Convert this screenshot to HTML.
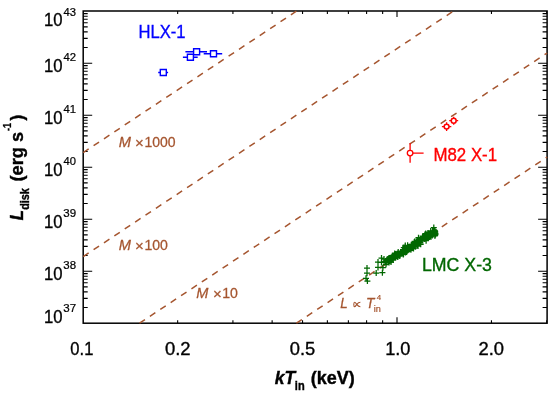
<!DOCTYPE html>
<html><head><meta charset="utf-8"><title>L_disk vs kT_in</title>
<style>html,body{margin:0;padding:0;background:#fff}body{width:554px;height:396px;overflow:hidden}</style></head>
<body>
<svg width="554" height="396" viewBox="0 0 554 396" style="display:block;font-family:'Liberation Sans',sans-serif">
<rect x="0" y="0" width="554" height="396" fill="#fff"/>
<path d="M83.20 307.55h4.5M547.10 307.55h-4.5M83.20 298.39h4.5M547.10 298.39h-4.5M83.20 291.89h4.5M547.10 291.89h-4.5M83.20 286.85h4.5M547.10 286.85h-4.5M83.20 282.74h4.5M547.10 282.74h-4.5M83.20 279.25h4.5M547.10 279.25h-4.5M83.20 276.24h4.5M547.10 276.24h-4.5M83.20 273.58h4.5M547.10 273.58h-4.5M83.20 271.20h9.0M547.10 271.20h-9.0M83.20 255.55h4.5M547.10 255.55h-4.5M83.20 246.39h4.5M547.10 246.39h-4.5M83.20 239.89h4.5M547.10 239.89h-4.5M83.20 234.85h4.5M547.10 234.85h-4.5M83.20 230.74h4.5M547.10 230.74h-4.5M83.20 227.25h4.5M547.10 227.25h-4.5M83.20 224.24h4.5M547.10 224.24h-4.5M83.20 221.58h4.5M547.10 221.58h-4.5M83.20 219.20h9.0M547.10 219.20h-9.0M83.20 203.55h4.5M547.10 203.55h-4.5M83.20 194.39h4.5M547.10 194.39h-4.5M83.20 187.89h4.5M547.10 187.89h-4.5M83.20 182.85h4.5M547.10 182.85h-4.5M83.20 178.74h4.5M547.10 178.74h-4.5M83.20 175.25h4.5M547.10 175.25h-4.5M83.20 172.24h4.5M547.10 172.24h-4.5M83.20 169.58h4.5M547.10 169.58h-4.5M83.20 167.20h9.0M547.10 167.20h-9.0M83.20 151.55h4.5M547.10 151.55h-4.5M83.20 142.39h4.5M547.10 142.39h-4.5M83.20 135.89h4.5M547.10 135.89h-4.5M83.20 130.85h4.5M547.10 130.85h-4.5M83.20 126.74h4.5M547.10 126.74h-4.5M83.20 123.25h4.5M547.10 123.25h-4.5M83.20 120.24h4.5M547.10 120.24h-4.5M83.20 117.58h4.5M547.10 117.58h-4.5M83.20 115.20h9.0M547.10 115.20h-9.0M83.20 99.55h4.5M547.10 99.55h-4.5M83.20 90.39h4.5M547.10 90.39h-4.5M83.20 83.89h4.5M547.10 83.89h-4.5M83.20 78.85h4.5M547.10 78.85h-4.5M83.20 74.74h4.5M547.10 74.74h-4.5M83.20 71.25h4.5M547.10 71.25h-4.5M83.20 68.24h4.5M547.10 68.24h-4.5M83.20 65.58h4.5M547.10 65.58h-4.5M83.20 63.20h9.0M547.10 63.20h-9.0M83.20 47.55h4.5M547.10 47.55h-4.5M83.20 38.39h4.5M547.10 38.39h-4.5M83.20 31.89h4.5M547.10 31.89h-4.5M83.20 26.85h4.5M547.10 26.85h-4.5M83.20 22.74h4.5M547.10 22.74h-4.5M83.20 19.25h4.5M547.10 19.25h-4.5M83.20 16.24h4.5M547.10 16.24h-4.5M83.20 13.58h4.5M547.10 13.58h-4.5M177.66 323.20v-3.0M177.66 11.00v3.0M232.92 323.20v-3.0M232.92 11.00v3.0M272.13 323.20v-3.0M272.13 11.00v3.0M302.54 323.20v-3.0M302.54 11.00v3.0M327.38 323.20v-3.0M327.38 11.00v3.0M348.39 323.20v-3.0M348.39 11.00v3.0M366.59 323.20v-3.0M366.59 11.00v3.0M382.64 323.20v-3.0M382.64 11.00v3.0M397.00 323.20v-6.0M397.00 11.00v6.0M491.46 323.20v-3.0M491.46 11.00v3.0M546.72 323.20v-3.0M546.72 11.00v3.0" stroke="#000" stroke-width="1.1" fill="none"/>
<rect x="83.2" y="11.0" width="463.90" height="312.20" fill="none" stroke="#000" stroke-width="1.5"/>
<line x1="296.42" y1="323.20" x2="547.10" y2="157.04" stroke="#a5552f" stroke-width="1.5" stroke-dasharray="6.54 5.92"/>
<line x1="139.52" y1="323.20" x2="547.10" y2="53.04" stroke="#a5552f" stroke-width="1.5" stroke-dasharray="6.54 5.92"/>
<line x1="83.20" y1="256.53" x2="453.62" y2="11.00" stroke="#a5552f" stroke-width="1.5" stroke-dasharray="6.54 5.92"/>
<line x1="83.20" y1="152.53" x2="296.72" y2="11.00" stroke="#a5552f" stroke-width="1.5" stroke-dasharray="6.54 5.92"/>
<polyline points="385.1,261.5 393.9,257.1 402.7,251.8 411.6,246.5 420.4,241.2 429.3,235.0 436.0,231.0" stroke="#006700" stroke-width="3.4" fill="none" stroke-linecap="round" stroke-linejoin="round"/>
<path d="M398.5 253.8h6M401.5 250.8v6M385.7 261.2h6M388.7 258.2v6M409.3 245.7h6M412.3 242.7v6M407.9 247.4h6M410.9 244.4v6M383.9 260.2h6M386.9 257.2v6M386.6 259.4h6M389.6 256.4v6M403.7 249.8h6M406.7 246.8v6M393.4 255.0h6M396.4 252.0v6M414.0 245.5h6M417.0 242.5v6M402.2 249.6h6M405.2 246.6v6M431.8 235.8h6M434.8 232.8v6M396.8 254.4h6M399.8 251.4v6M389.4 258.7h6M392.4 255.7v6M423.6 238.0h6M426.6 235.0v6M391.2 255.2h6M394.2 252.2v6M401.0 249.9h6M404.0 246.9v6M409.9 246.3h6M412.9 243.3v6M392.5 256.3h6M395.5 253.3v6M416.7 240.2h6M419.7 237.2v6M411.9 245.2h6M414.9 242.2v6M405.1 247.7h6M408.1 244.7v6M417.6 244.2h6M420.6 241.2v6M394.4 253.4h6M397.4 250.4v6M426.6 233.7h6M429.6 230.7v6M419.2 238.7h6M422.2 235.7v6M388.0 262.1h6M391.0 259.1v6M403.3 249.7h6M406.3 246.7v6M406.9 246.5h6M409.9 243.5v6M384.0 259.5h6M387.0 256.5v6M411.2 242.3h6M414.2 239.3v6M426.6 233.5h6M429.6 230.5v6M412.3 246.8h6M415.3 243.8v6M411.6 241.4h6M414.6 238.4v6M430.2 233.8h6M433.2 230.8v6M406.2 247.6h6M409.2 244.6v6M417.8 240.4h6M420.8 237.4v6M415.0 246.1h6M418.0 243.1v6M396.5 253.6h6M399.5 250.6v6M401.7 250.5h6M404.7 247.5v6M405.5 248.0h6M408.5 245.0v6M390.6 257.6h6M393.6 254.6v6M421.2 239.0h6M424.2 236.0v6M388.6 258.3h6M391.6 255.3v6M426.4 237.0h6M429.4 234.0v6M386.1 258.0h6M389.1 255.0v6M427.1 235.4h6M430.1 232.4v6M423.8 237.8h6M426.8 234.8v6M403.2 248.7h6M406.2 245.7v6M400.3 254.4h6M403.3 251.4v6M389.7 255.4h6M392.7 252.4v6M391.0 257.2h6M394.0 254.2v6M406.7 248.8h6M409.7 245.8v6M412.0 244.4h6M415.0 241.4v6M403.4 249.8h6M406.4 246.8v6M400.8 247.6h6M403.8 244.6v6M417.2 239.4h6M420.2 236.4v6M408.3 244.8h6M411.3 241.8v6M384.8 258.9h6M387.8 255.9v6M427.9 234.9h6M430.9 231.9v6M422.7 233.5h6M425.7 230.5v6M402.0 249.8h6M405.0 246.8v6M414.3 243.5h6M417.3 240.5v6M385.2 260.8h6M388.2 257.8v6M390.3 257.8h6M393.3 254.8v6M399.3 252.0h6M402.3 249.0v6M389.7 257.7h6M392.7 254.7v6M387.2 258.8h6M390.2 255.8v6M426.6 235.2h6M429.6 232.2v6M413.3 244.5h6M416.3 241.5v6M399.7 252.7h6M402.7 249.7v6M400.6 253.5h6M403.6 250.5v6M432.6 234.2h6M435.6 231.2v6M405.8 247.5h6M408.8 244.5v6M387.2 259.0h6M390.2 256.0v6M399.5 251.7h6M402.5 248.7v6M390.2 260.0h6M393.2 257.0v6M383.2 262.4h6M386.2 259.4v6M389.5 257.3h6M392.5 254.3v6M409.7 247.9h6M412.7 244.9v6M431.9 232.1h6M434.9 229.1v6M426.0 234.7h6M429.0 231.7v6M400.7 250.1h6M403.7 247.1v6M390.5 257.5h6M393.5 254.5v6M421.7 235.8h6M424.7 232.8v6M398.8 252.8h6M401.8 249.8v6M432.2 235.4h6M435.2 232.4v6M425.5 236.9h6M428.5 233.9v6M419.7 236.2h6M422.7 233.2v6M393.6 254.2h6M396.6 251.2v6M383.5 260.7h6M386.5 257.7v6M383.4 260.7h6M386.4 257.7v6M417.3 242.7h6M420.3 239.7v6M430.8 227.5h6M433.8 224.5v6M432.4 233.0h6M435.4 230.0v6M430.7 231.4h6M433.7 228.4v6M393.6 256.2h6M396.6 253.2v6M392.0 257.0h6M395.0 254.0v6M427.9 236.9h6M430.9 233.9v6M424.9 233.1h6M427.9 230.1v6M422.8 237.8h6M425.8 234.8v6M386.3 257.9h6M389.3 254.9v6M421.9 234.4h6M424.9 231.4v6M420.3 238.0h6M423.3 235.0v6M422.2 238.0h6M425.2 235.0v6M399.0 253.5h6M402.0 250.5v6M402.2 246.3h6M405.2 243.3v6M402.5 252.6h6M405.5 249.6v6M390.7 256.5h6M393.7 253.5v6M388.5 260.0h6M391.5 257.0v6M423.1 240.7h6M426.1 237.7v6M389.5 259.6h6M392.5 256.6v6M415.5 237.7h6M418.5 234.7v6M399.9 250.9h6M402.9 247.9v6M382.7 261.0h6M385.7 258.0v6M431.5 230.3h6M434.5 227.3v6M429.6 230.9h6M432.6 227.9v6M404.1 251.3h6M407.1 248.3v6M392.8 254.1h6M395.8 251.1v6M394.8 254.4h6M397.8 251.4v6M411.9 245.8h6M414.9 242.8v6M395.2 253.8h6M398.2 250.8v6M428.4 234.3h6M431.4 231.3v6M400.0 249.6h6M403.0 246.6v6M428.1 234.6h6M431.1 231.6v6M403.5 251.2h6M406.5 248.2v6M409.1 245.2h6M412.1 242.2v6M408.7 248.3h6M411.7 245.3v6M391.3 257.0h6M394.3 254.0v6M382.2 261.7h6M385.2 258.7v6M406.1 247.0h6M409.1 244.0v6M419.0 238.5h6M422.0 235.5v6M408.4 246.1h6M411.4 243.1v6M410.3 245.6h6M413.3 242.6v6M410.6 244.5h6M413.6 241.5v6M394.7 254.4h6M397.7 251.4v6M407.9 249.8h6M410.9 246.8v6M410.6 245.5h6M413.6 242.5v6M404.6 245.3h6M407.6 242.3v6M413.2 241.5h6M416.2 238.5v6M417.3 241.2h6M420.3 238.2v6M405.1 246.8h6M408.1 243.8v6M430.0 232.3h6M433.0 229.3v6M417.7 244.3h6M420.7 241.3v6M395.2 252.0h6M398.2 249.0v6M410.5 248.5h6M413.5 245.5v6M389.0 257.2h6M392.0 254.2v6M388.2 258.0h6M391.2 255.0v6M394.3 255.3h6M397.3 252.3v6M385.7 258.6h6M388.7 255.6v6M427.7 230.9h6M430.7 227.9v6M389.9 257.2h6M392.9 254.2v6M389.3 256.0h6M392.3 253.0v6M427.0 236.0h6M430.0 233.0v6M430.6 232.1h6M433.6 229.1v6M402.3 245.4h6M405.3 242.4v6M424.5 236.8h6M427.5 233.8v6M390.2 255.9h6M393.2 252.9v6M399.3 252.8h6M402.3 249.8v6M392.0 255.5h6M395.0 252.5v6M383.0 262.8h6M386.0 259.8v6M410.3 245.2h6M413.3 242.2v6M398.9 252.4h6M401.9 249.4v6M413.8 242.7h6M416.8 239.7v6M432.2 231.4h6M435.2 228.4v6M422.2 238.8h6M425.2 235.8v6M395.5 254.2h6M398.5 251.2v6M384.0 260.7h6M387.0 257.7v6M388.6 257.2h6M391.6 254.2v6M403.5 252.1h6M406.5 249.1v6M395.2 253.1h6M398.2 250.1v6M389.6 259.3h6M392.6 256.3v6M417.7 239.8h6M420.7 236.8v6M386.6 261.1h6M389.6 258.1v6M403.7 250.3h6M406.7 247.3v6M385.7 261.4h6M388.7 258.4v6M422.9 236.3h6M425.9 233.3v6M386.3 259.7h6M389.3 256.7v6M426.0 234.6h6M429.0 231.6v6M405.1 247.4h6M408.1 244.4v6M429.3 235.5h6M432.3 232.5v6M395.7 255.5h6M398.7 252.5v6M394.2 256.4h6M397.2 253.4v6M387.6 259.0h6M390.6 256.0v6M392.3 256.6h6M395.3 253.6v6M397.9 252.0h6M400.9 249.0v6M396.8 255.9h6M399.8 252.9v6M407.5 247.8h6M410.5 244.8v6M382.9 262.1h6M385.9 259.1v6M394.8 257.1h6M397.8 254.1v6M410.1 245.9h6M413.1 242.9v6M391.7 253.4h6M394.7 250.4v6M387.4 259.3h6M390.4 256.3v6M423.8 234.6h6M426.8 231.6v6M424.6 237.2h6M427.6 234.2v6M402.0 248.0h6M405.0 245.0v6M432.1 231.4h6M435.1 228.4v6M399.5 253.1h6M402.5 250.1v6M414.4 240.5h6M417.4 237.5v6M402.6 249.7h6M405.6 246.7v6M388.6 258.6h6M391.6 255.6v6M364.0 268.1h6M367.0 265.1v6M364.0 273.2h6M367.0 270.2v6M363.0 278.3h6M366.0 275.3v6M364.4 281.0h6M367.4 278.0v6M375.0 262.1h6M378.0 259.1v6M378.5 258.0h6M381.5 255.0v6M378.5 262.4h6M381.5 259.4v6M373.2 273.0h6M376.2 270.0v6M379.9 267.7h6M382.9 264.7v6M379.4 272.7h6M382.4 269.7v6M375.0 267.4h6M378.0 264.4v6M381.0 259.0h6M384.0 256.0v6M383.0 264.5h6M386.0 261.5v6M386.0 262.5h6M389.0 259.5v6" stroke="#006700" stroke-width="1.25" fill="none"/>
<path d="M158.2 72.5H160.3M166.3 72.5H168.1M160.3 69.5h6v6h-6zM182.9 57.3H187.4M193.4 57.3H197.7M187.4 54.3h6v6h-6zM185.4 51.8H193.6M199.6 51.8H207.0M193.6 48.8h6v6h-6zM203.7 53.7H210.5M216.5 53.7H222.2M210.5 50.7h6v6h-6z" stroke="#0000ff" stroke-width="1.4" fill="none"/>
<path d="M410.1 143.3V150.4M410.1 155.8V162.8M412.8 153.1H423.6" stroke="#ff0000" stroke-width="1.3" fill="none"/>
<circle cx="410.1" cy="153.1" r="2.8" stroke="#ff0000" stroke-width="1.3" fill="none"/>
<circle cx="446.6" cy="126.6" r="2.45" stroke="#ff0000" stroke-width="1.5" fill="none"/>
<path d="M441.90000000000003 126.6H444.1M449.1 126.6H451.3M446.6 122.3V124.1M446.6 129.1V130.9" stroke="#ff0000" stroke-width="1.3" fill="none"/>
<circle cx="453.7" cy="120.7" r="2.45" stroke="#ff0000" stroke-width="1.5" fill="none"/>
<path d="M449.2 120.7H451.2M456.2 120.7H458.2M453.7 116.7V118.2M453.7 123.2V124.7" stroke="#ff0000" stroke-width="1.3" fill="none"/>
<g opacity="0.999">
<text transform="translate(70.34,354.70) scale(0.9299,1)" font-size="17.8" font-weight="normal" font-style="normal" fill="#000" stroke="#000" stroke-width="0.35">0.1</text>
<text transform="translate(164.92,354.70) scale(1.0372,1)" font-size="17.8" font-weight="normal" font-style="normal" fill="#000" stroke="#000" stroke-width="0.35">0.2</text>
<text transform="translate(289.80,354.70) scale(1.0292,1)" font-size="17.8" font-weight="normal" font-style="normal" fill="#000" stroke="#000" stroke-width="0.35">0.5</text>
<text transform="translate(385.13,354.70) scale(1.0226,1)" font-size="17.8" font-weight="normal" font-style="normal" fill="#000" stroke="#000" stroke-width="0.35">1.0</text>
<text transform="translate(478.54,354.70) scale(1.0332,1)" font-size="17.8" font-weight="normal" font-style="normal" fill="#000" stroke="#000" stroke-width="0.35">2.0</text>
<text transform="translate(43.95,323.30) scale(0.9382,1)" font-size="17.8" font-weight="normal" font-style="normal" fill="#000" stroke="#000" stroke-width="0.35">10</text>
<text transform="translate(63.34,312.20) scale(1.0517,1)" font-size="11.0" font-weight="normal" font-style="normal" fill="#000" stroke="#000" stroke-width="0.24">37</text>
<text transform="translate(43.95,279.80) scale(0.9382,1)" font-size="17.8" font-weight="normal" font-style="normal" fill="#000" stroke="#000" stroke-width="0.35">10</text>
<text transform="translate(63.34,268.60) scale(1.0415,1)" font-size="11.0" font-weight="normal" font-style="normal" fill="#000" stroke="#000" stroke-width="0.24">38</text>
<text transform="translate(43.95,227.80) scale(0.9382,1)" font-size="17.8" font-weight="normal" font-style="normal" fill="#000" stroke="#000" stroke-width="0.35">10</text>
<text transform="translate(63.34,216.60) scale(1.0466,1)" font-size="11.0" font-weight="normal" font-style="normal" fill="#000" stroke="#000" stroke-width="0.24">39</text>
<text transform="translate(43.95,175.80) scale(0.9382,1)" font-size="17.8" font-weight="normal" font-style="normal" fill="#000" stroke="#000" stroke-width="0.35">10</text>
<text transform="translate(63.58,164.60) scale(1.0168,1)" font-size="11.0" font-weight="normal" font-style="normal" fill="#000" stroke="#000" stroke-width="0.24">40</text>
<text transform="translate(43.95,123.80) scale(0.9382,1)" font-size="17.8" font-weight="normal" font-style="normal" fill="#000" stroke="#000" stroke-width="0.35">10</text>
<text transform="translate(63.57,112.60) scale(1.0265,1)" font-size="11.0" font-weight="normal" font-style="normal" fill="#000" stroke="#000" stroke-width="0.24">41</text>
<text transform="translate(43.95,71.80) scale(0.9382,1)" font-size="17.8" font-weight="normal" font-style="normal" fill="#000" stroke="#000" stroke-width="0.35">10</text>
<text transform="translate(63.57,60.60) scale(1.0315,1)" font-size="11.0" font-weight="normal" font-style="normal" fill="#000" stroke="#000" stroke-width="0.24">42</text>
<text transform="translate(43.95,26.40) scale(0.9382,1)" font-size="17.8" font-weight="normal" font-style="normal" fill="#000" stroke="#000" stroke-width="0.35">10</text>
<text transform="translate(63.58,15.70) scale(1.0216,1)" font-size="11.0" font-weight="normal" font-style="normal" fill="#000" stroke="#000" stroke-width="0.24">43</text>
<text transform="translate(138.57,38.20) scale(0.9225,1)" font-size="18" font-weight="normal" font-style="normal" fill="#0000ff" stroke="#0000ff" stroke-width="0.35">HLX-1</text>
<text transform="translate(433.45,161.30) scale(0.9363,1)" font-size="18" font-weight="normal" font-style="normal" fill="#ff0000" stroke="#ff0000" stroke-width="0.35">M82 X-1</text>
<text transform="translate(421.98,271.00) scale(0.9862,1)" font-size="18" font-weight="normal" font-style="normal" fill="#006700" stroke="#006700" stroke-width="0.35">LMC X-3</text>
<text transform="translate(118.76,146.50) scale(1.0470,1)" font-size="14.0" font-weight="normal" font-style="italic" fill="#a5552f" stroke="#a5552f" stroke-width="0.28">M</text>
<text transform="translate(135.05,147.50) scale(1.0312,1)" font-size="14.6" font-weight="normal" font-style="normal" fill="#a5552f" stroke="#a5552f" stroke-width="0.28">×</text>
<text transform="translate(144.45,146.50) scale(0.9997,1)" font-size="14.0" font-weight="normal" font-style="normal" fill="#a5552f" stroke="#a5552f" stroke-width="0.28">1000</text>
<text transform="translate(118.76,250.40) scale(1.0470,1)" font-size="14.0" font-weight="normal" font-style="italic" fill="#a5552f" stroke="#a5552f" stroke-width="0.28">M</text>
<text transform="translate(135.05,251.40) scale(1.0312,1)" font-size="14.6" font-weight="normal" font-style="normal" fill="#a5552f" stroke="#a5552f" stroke-width="0.28">×</text>
<text transform="translate(144.44,250.40) scale(1.0060,1)" font-size="14.0" font-weight="normal" font-style="normal" fill="#a5552f" stroke="#a5552f" stroke-width="0.28">100</text>
<text transform="translate(196.36,298.30) scale(1.0382,1)" font-size="14.0" font-weight="normal" font-style="italic" fill="#a5552f" stroke="#a5552f" stroke-width="0.28">M</text>
<text transform="translate(213.05,299.30) scale(1.0312,1)" font-size="14.6" font-weight="normal" font-style="normal" fill="#a5552f" stroke="#a5552f" stroke-width="0.28">×</text>
<text transform="translate(222.24,298.30) scale(1.0071,1)" font-size="14.0" font-weight="normal" font-style="normal" fill="#a5552f" stroke="#a5552f" stroke-width="0.28">10</text>
<text transform="translate(340.30,307.80) scale(0.9576,1)" font-size="14.0" font-weight="normal" font-style="italic" fill="#a5552f" stroke="#a5552f" stroke-width="0.28">L</text>
<text transform="translate(365.96,307.80) scale(0.9852,1)" font-size="14.0" font-weight="normal" font-style="italic" fill="#a5552f" stroke="#a5552f" stroke-width="0.28">T</text>
<text transform="translate(376.74,300.20) scale(1.0155,1)" font-size="7.8" font-weight="normal" font-style="normal" fill="#a5552f" stroke="#a5552f" stroke-width="0.20">4</text>
<text transform="translate(373.71,312.00) scale(1.0164,1)" font-size="9.0" font-weight="normal" font-style="normal" fill="#a5552f" stroke="#a5552f" stroke-width="0.20">in</text>
<path d="M360.4 302.3C358.6 302.3 357.6 303.4 356.6 304.6C355.8 305.7 355.2 306.7 354.6 306.7C353.9 306.7 353.8 305.6 353.8 304.5C353.8 303.4 353.9 302.3 354.7 302.3C355.3 302.3 355.9 303.3 356.7 304.4C357.6 305.6 358.6 306.7 360.4 306.7" stroke="#a5552f" stroke-width="1.1" fill="none"/>
<text transform="translate(274.64,384.30) scale(0.9745,1)" font-size="18" font-weight="bold" font-style="italic" fill="#000" stroke="#000" stroke-width="0.40">kT</text>
<text transform="translate(294.83,390.40) scale(0.9060,1)" font-size="12.2" font-weight="bold" font-style="normal" fill="#000" stroke="#000" stroke-width="0.40">in</text>
<text transform="translate(310.70,384.30) scale(0.9998,1)" font-size="18" font-weight="bold" font-style="normal" fill="#000" stroke="#000" stroke-width="0.40">(keV)</text>
<text transform="translate(23.00,220.24) rotate(-90) scale(0.9077,1)" font-size="18.5" font-weight="bold" font-style="italic" fill="#000" stroke="#000" stroke-width="0.40">L</text>
<text transform="translate(29.00,209.83) rotate(-90) scale(0.8835,1)" font-size="12.3" font-weight="bold" font-style="normal" fill="#000" stroke="#000" stroke-width="0.40">disk</text>
<text transform="translate(23.00,181.51) rotate(-90) scale(0.9865,1)" font-size="18.5" font-weight="bold" font-style="normal" fill="#000" stroke="#000" stroke-width="0.40">(erg s</text>
<text transform="translate(11.30,130.97) rotate(-90) scale(0.8152,1)" font-size="11.3" font-weight="bold" font-style="normal" fill="#000" stroke="#000" stroke-width="0.28">-1</text>
<text transform="translate(23.00,120.50) rotate(-90) scale(0.9483,1)" font-size="18.5" font-weight="bold" font-style="normal" fill="#000" stroke="#000" stroke-width="0.40">)</text>
</g>
</svg>
</body></html>
